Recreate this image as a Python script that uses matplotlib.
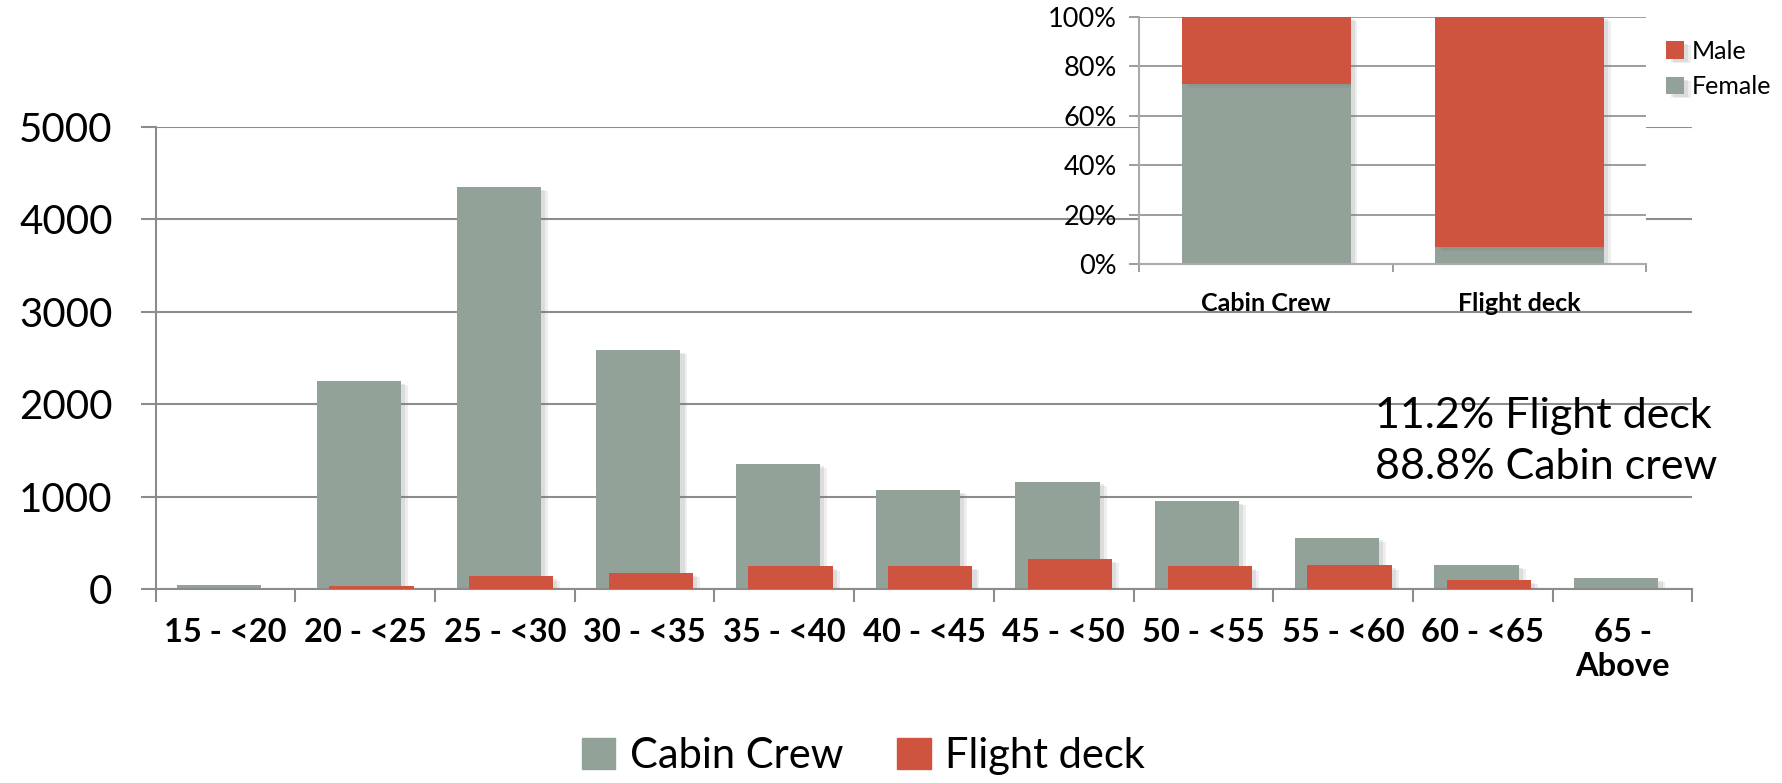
import numpy as np
import matplotlib
matplotlib.use("Agg")
import matplotlib.pyplot as plt
import matplotlib.patheffects as pe
from matplotlib.patches import Patch
from matplotlib.ticker import FixedLocator, PercentFormatter

plt.rcParams['font.family'] = ['Lato', 'DejaVu Sans']

# age distribution of crew
age_groups = ['15 - <20', '20 - <25', '25 - <30', '30 - <35', '35 - <40', '40 - <45',
              '45 - <50', '50 - <55', '55 - <60', '60 - <65', '65 -\nAbove']
cabin_crew = [45, 2250, 4350, 2590, 1360, 1075, 1165, 955, 560, 260, 125]
flight_deck = [0, 35, 140, 173, 248, 252, 324, 248, 258, 100, 0]

# gender split (share in %)
roles = ['Cabin Crew', 'Flight deck']
female = [73, 7]
male = [27, 93]

share_text = "11.2% Flight deck\n88.8% Cabin crew"

GREY = '#93a299'
RED = '#cf543f'
LINE = '#8c8c8c'

shadow = [pe.SimplePatchShadow(offset=(5, -3), shadow_rgbFace='#777777', alpha=0.12),
          pe.SimplePatchShadow(offset=(3, -2), shadow_rgbFace='#777777', alpha=0.15),
          pe.Normal()]

fig = plt.figure(figsize=(17.83, 7.83), dpi=100)

# ---- main bar chart ----
ax = fig.add_axes([0.0873, 0.2474, 0.8619, 0.5904])
x = np.arange(len(age_groups))
w = 0.603
ax.bar(x - 0.045, cabin_crew, w, color=GREY, zorder=2, path_effects=shadow)
ax.bar(x + 0.045, flight_deck, w, color=RED, zorder=3, path_effects=shadow)

ax.set_xlim(-0.5, len(age_groups) - 0.5)
ax.set_ylim(0, 5000)
ax.set_yticks([0, 1000, 2000, 3000, 4000, 5000])
ax.yaxis.grid(True, color=LINE, linewidth=1.5, zorder=0)
ax.set_axisbelow(True)
for s in ['top', 'right']:
    ax.spines[s].set_visible(False)
for s in ['left', 'bottom']:
    ax.spines[s].set_color(LINE)
    ax.spines[s].set_linewidth(1.5)

ax.set_xticks(x)
ax.set_xticklabels(age_groups, fontsize=23.5, fontweight='bold', linespacing=1.2)
ax.tick_params(axis='x', which='major', length=0, pad=21)
ax.xaxis.set_minor_locator(FixedLocator(np.arange(-0.5, len(age_groups), 1)))
ax.tick_params(axis='x', which='minor', length=9, width=1.5, color=LINE)
ax.tick_params(axis='y', labelsize=29, length=11, width=1.5, color=LINE, pad=20)

# ---- inset: gender split ----
ins = fig.add_axes([0.639, 0.6622, 0.2842, 0.3165])
ins.set_facecolor('white')
xi = np.arange(len(roles))
ins.bar(xi, female, 0.667, color=GREY, zorder=2, path_effects=shadow, label='Female')
ins.bar(xi, male, 0.667, bottom=female, color=RED, zorder=2, path_effects=shadow, label='Male')
ins.set_xlim(-0.5, 1.5)
ins.set_ylim(0, 100)
ins.set_yticks([0, 20, 40, 60, 80, 100])
ins.yaxis.set_major_formatter(PercentFormatter(decimals=0))
ins.yaxis.grid(True, color=LINE, linewidth=1.2, zorder=0)
ins.set_axisbelow(True)
for s in ['top', 'right']:
    ins.spines[s].set_visible(False)
for s in ['left', 'bottom']:
    ins.spines[s].set_color('#aaaaaa')
    ins.spines[s].set_linewidth(1.5)
ins.set_xticks(xi)
ins.set_xticklabels(roles, fontsize=18, fontweight='bold')
ins.tick_params(axis='x', which='major', length=0, pad=20)
ins.xaxis.set_minor_locator(FixedLocator([-0.5, 0.5, 1.5]))
ins.tick_params(axis='x', which='minor', length=6, width=1.2, color=LINE)
ins.tick_params(axis='y', labelsize=19.5, length=7, width=1.2, color=LINE, pad=9)

h, l = ins.get_legend_handles_labels()
fig.legend(h[::-1], l[::-1], loc='upper left', bbox_to_anchor=(0.929, 0.962),
           frameon=False, fontsize=18, handlelength=0.7, handleheight=0.7,
           handletextpad=0.3, labelspacing=0.5, borderaxespad=0)

# ---- annotation ----
fig.text(0.771, 0.436, share_text, fontsize=31, ha='left', va='center', linespacing=1.42)

# ---- bottom legend ----
fig.legend([Patch(color=GREY), Patch(color=RED)], ['Cabin Crew', 'Flight deck'],
           loc='center', bbox_to_anchor=(0.4843, 0.0345), ncol=2, frameon=False,
           fontsize=30, handlelength=0.8, handleheight=0.8, handletextpad=0.35,
           columnspacing=1.3, borderaxespad=0)

fig.savefig('out.png', dpi=100, facecolor='white')
